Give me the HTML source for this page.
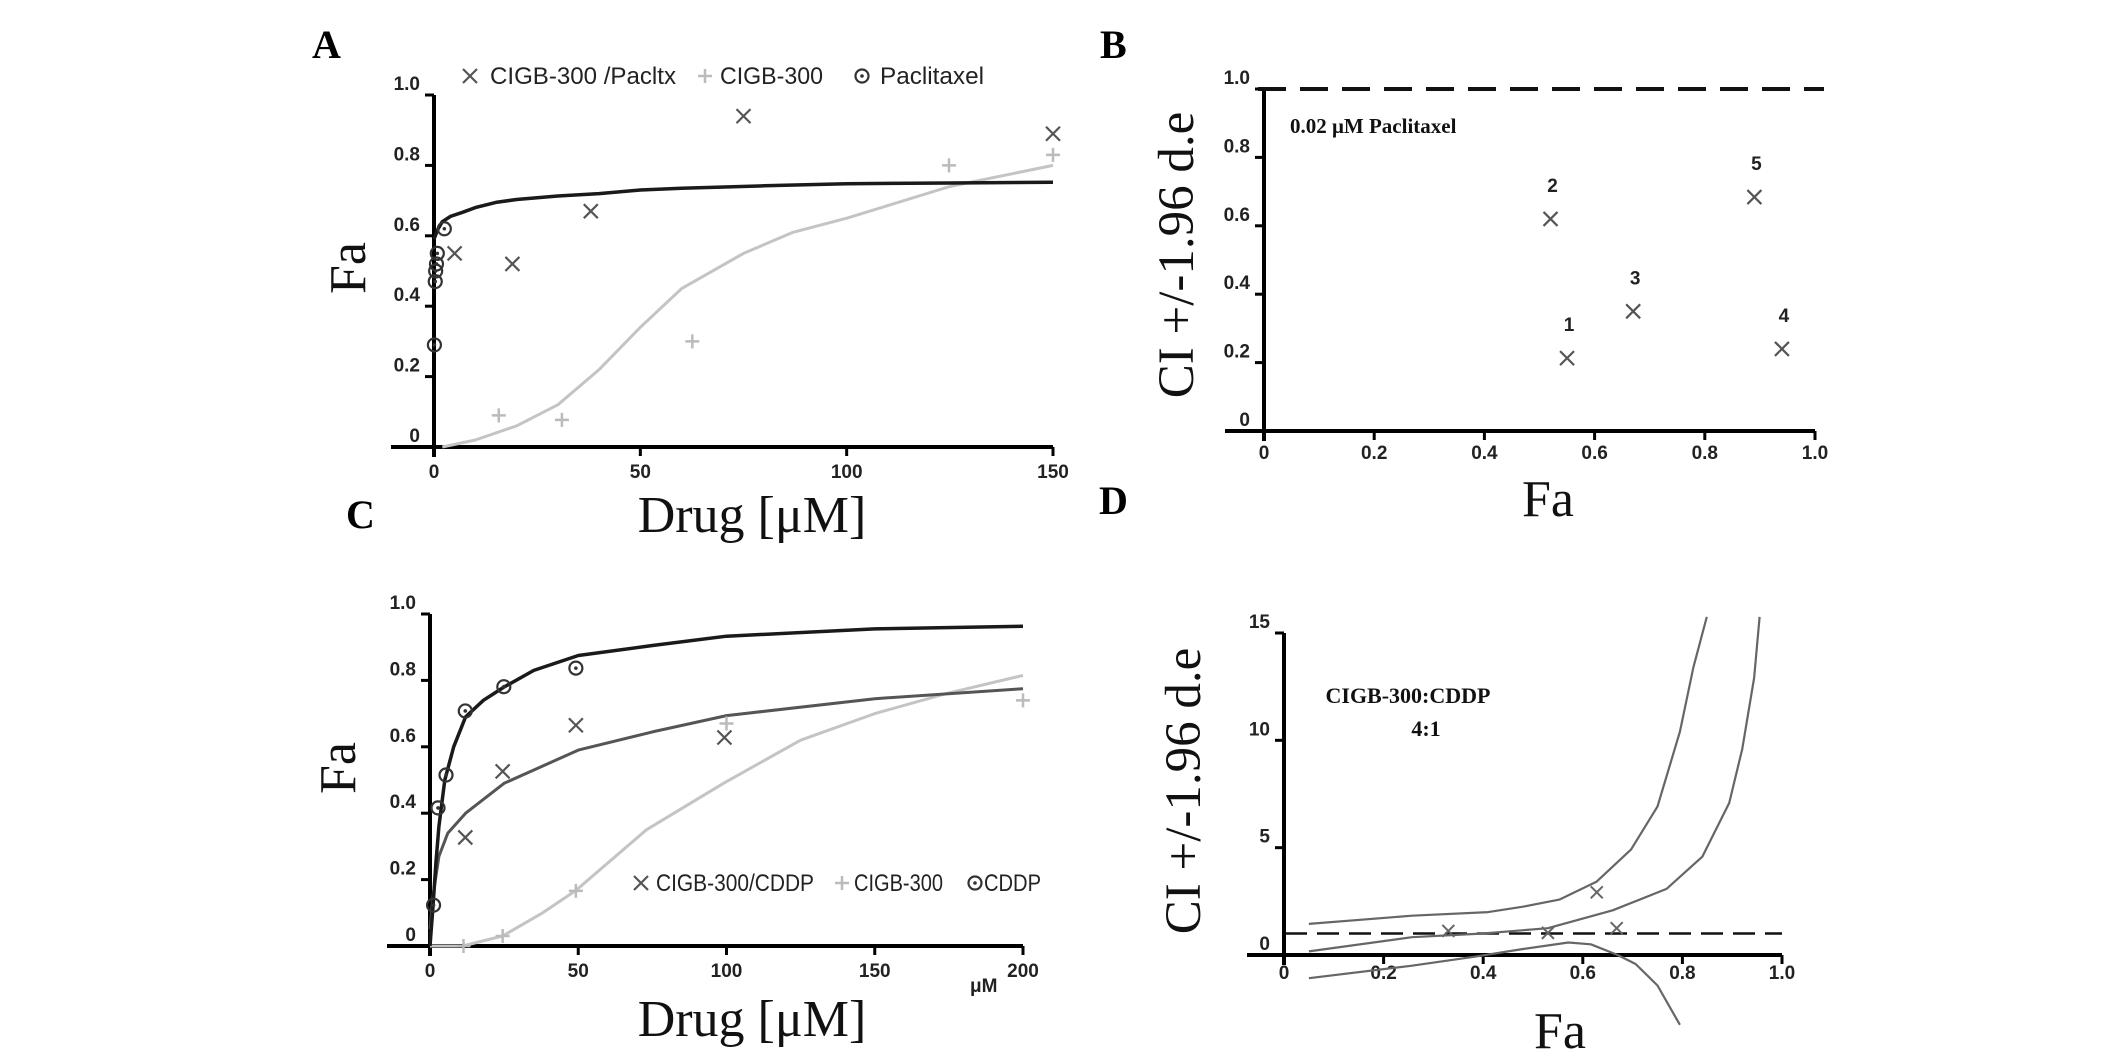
<!DOCTYPE html>
<html><head><meta charset="utf-8"><style>
html,body{margin:0;padding:0;background:#fff;}
svg{display:block;}
.tk{font-family:"Liberation Sans Narrow","Liberation Sans",sans-serif;font-weight:bold;font-size:19px;fill:#222;}
.ser{font-family:"Liberation Serif",serif;}
.lg{font-family:"Liberation Sans Narrow","Liberation Sans",sans-serif;font-size:24px;fill:#222;}
</style></head><body>
<svg id="fig" width="2126" height="1063" viewBox="0 0 2126 1063" xmlns="http://www.w3.org/2000/svg">
<rect width="2126" height="1063" fill="#fff"/>
<g class="ser" font-weight="bold" font-size="40" fill="#000">
<text x="312" y="58">A</text>
<text x="1100" y="58">B</text>
<text x="346" y="528">C</text>
<text x="1099" y="514">D</text>
</g>
<g class="ser" font-size="52" fill="#111">
<text x="752" y="532" text-anchor="middle">Drug  [μM]</text>
<text transform="translate(365,268) rotate(-90)" text-anchor="middle">Fa</text>
<text x="1548" y="516" text-anchor="middle">Fa</text>
<text transform="translate(1193,255) rotate(-90)" font-size="51" text-anchor="middle">CI +/-1.96 d.e</text>
<text x="752" y="1036" text-anchor="middle">Drug  [μM]</text>
<text transform="translate(355,768) rotate(-90)" text-anchor="middle">Fa</text>
<text x="1560" y="1048" text-anchor="middle">Fa</text>
<text transform="translate(1200,791) rotate(-90)" font-size="51" text-anchor="middle">CI +/-1.96 d.e</text>
</g>
<text x="1290" y="133" class="ser" font-weight="bold" font-size="21" fill="#111">0.02 μM Paclitaxel</text>
<text x="1408" y="703" class="ser" font-weight="bold" font-size="22" fill="#111" text-anchor="middle">CIGB-300:CDDP</text>
<text x="1426" y="736" class="ser" font-weight="bold" font-size="22" fill="#111" text-anchor="middle">4:1</text>
<text x="970" y="992" class="tk" font-weight="normal" font-size="17">μM</text>
<g class="lg">
<text x="490" y="84" textLength="186" lengthAdjust="spacingAndGlyphs">CIGB-300 /Pacltx</text>
<text x="720" y="84" textLength="103" lengthAdjust="spacingAndGlyphs">CIGB-300</text>
<text x="880" y="84" textLength="104" lengthAdjust="spacingAndGlyphs">Paclitaxel</text>
<text x="656" y="891" textLength="158" lengthAdjust="spacingAndGlyphs">CIGB-300/CDDP</text>
<text x="854" y="891" textLength="89" lengthAdjust="spacingAndGlyphs">CIGB-300</text>
<text x="984" y="891" textLength="57" lengthAdjust="spacingAndGlyphs">CDDP</text>
</g>
<g id="marks"></g>
</svg>
<script>
// Panel A data
const aComboX = [5, 19, 38, 75, 150];
const aComboY = [0.55, 0.52, 0.67, 0.94, 0.89];
const aCigbX = [15.7, 31, 62.6, 124.8, 150];
const aCigbY = [0.09, 0.077, 0.30, 0.80, 0.83];
const aPacX = [2.5, 0.8, 0.6, 0.4, 0.3, 0.1];
const aPacY = [0.62, 0.55, 0.52, 0.50, 0.47, 0.29];
const aComboCurveX = [0, 1, 2, 4, 7, 10, 15, 20, 30, 40, 50, 60, 80, 100, 125, 150];
const aComboCurveY = [0.59, 0.62, 0.64, 0.655, 0.667, 0.68, 0.695, 0.703, 0.713, 0.72, 0.73, 0.735, 0.742, 0.748, 0.75, 0.752];
const aCigbCurveX = [2, 10, 20, 30, 40, 50, 60, 75, 87, 100, 125, 150];
const aCigbCurveY = [0, 0.02, 0.06, 0.12, 0.22, 0.34, 0.45, 0.55, 0.61, 0.65, 0.74, 0.80];
const aXTicks = [0, 50, 100, 150];
const aYTicks = [0, 0.2, 0.4, 0.6, 0.8, 1.0];
const aYTickLabels = ["0", "0.2", "0.4", "0.6", "0.8", "1.0"];
// Panel B data
const bFa = [0.55, 0.52, 0.67, 0.94, 0.89];
const bCI = [0.213, 0.62, 0.35, 0.24, 0.684];
const bPointLabels = ["1", "2", "3", "4", "5"];
const bXTicks = [0, 0.2, 0.4, 0.6, 0.8, 1.0];
const bXTickLabels = ["0", "0.2", "0.4", "0.6", "0.8", "1.0"];
const bYTicks = [0, 0.2, 0.4, 0.6, 0.8, 1.0];
const bYTickLabels = ["0", "0.2", "0.4", "0.6", "0.8", "1.0"];
// Panel C data
const cCddpX = [1.2, 2.7, 5.4, 11.9, 24.9, 49.2];
const cCddpY = [0.123, 0.416, 0.515, 0.708, 0.781, 0.837];
const cComboX = [11.9, 24.5, 49.2, 99.3];
const cComboY = [0.327, 0.526, 0.665, 0.628];
const cCigbX = [11.3, 24.5, 49.2, 100, 200];
const cCigbY = [0, 0.03, 0.166, 0.67, 0.74];
const cCddpCurveX = [0, 1, 2, 3, 5, 8, 12, 18, 25, 35, 50, 75, 100, 150, 200];
const cCddpCurveY = [0, 0.12, 0.25, 0.36, 0.5, 0.6, 0.69, 0.74, 0.78, 0.83, 0.875, 0.905, 0.933, 0.955, 0.963];
const cComboCurveX = [0, 1, 3, 6, 12, 25, 50, 75, 100, 150, 200];
const cComboCurveY = [0.05, 0.15, 0.27, 0.34, 0.40, 0.49, 0.59, 0.645, 0.694, 0.745, 0.775];
const cCigbCurveX = [0, 11, 24.5, 38, 49, 73, 99, 125, 150, 174, 200];
const cCigbCurveY = [0, 0, 0.03, 0.10, 0.166, 0.35, 0.49, 0.62, 0.70, 0.76, 0.815];
const cXTicks = [0, 50, 100, 150, 200];
const cYTicks = [0, 0.2, 0.4, 0.6, 0.8, 1.0];
const cYTickLabels = ["0", "0.2", "0.4", "0.6", "0.8", "1.0"];
// Panel D data
const dFa = [0.33, 0.53, 0.628, 0.668];
const dCI = [1.12, 1.03, 2.92, 1.25];
const dUpperFa = [0.05, 0.257, 0.41, 0.48, 0.553, 0.628, 0.697, 0.75, 0.795, 0.822, 0.849];
const dUpperCI = [1.45, 1.83, 2.0, 2.25, 2.58, 3.42, 4.92, 6.92, 10.4, 13.4, 15.75];
const dMidFa = [0.05, 0.257, 0.40, 0.53, 0.66, 0.768, 0.84, 0.894, 0.92, 0.944, 0.955];
const dMidCI = [0.17, 0.83, 1.0, 1.25, 2.08, 3.08, 4.58, 7.08, 9.58, 12.9, 15.75];
const dLowFa = [0.05, 0.257, 0.383, 0.48, 0.571, 0.616, 0.67, 0.706, 0.75, 0.795];
const dLowCI = [-1.08, -0.5, -0.08, 0.28, 0.58, 0.5, 0, -0.42, -1.42, -3.25];
const dXTicks = [0, 0.2, 0.4, 0.6, 0.8, 1.0];
const dXTickLabels = ["0", "0.2", "0.4", "0.6", "0.8", "1.0"];
const dYTicks = [0, 5, 10, 15];

const NS = "http://www.w3.org/2000/svg";
const root = document.getElementById("marks");
function mk(tag, attrs) {
  const e = document.createElementNS(NS, tag);
  for (const k in attrs) e.setAttribute(k, attrs[k]);
  root.appendChild(e);
  return e;
}
function sc(d0, d1, r0, r1) { return v => r0 + (v - d0) / (d1 - d0) * (r1 - r0); }

function axes(p, xs, ys, xTicks, xLabels, yTicks, yLabels, xStart, labelY) {
  let e = mk("line", {x1: xStart, y1: ys(0), x2: xs(xTicks[xTicks.length-1]), y2: ys(0), stroke: "#000", "stroke-width": 4});
  
  
  e = mk("line", {x1: xs(0), y1: ys(0) + 10, x2: xs(0), y2: ys(yTicks[yTicks.length-1]), stroke: "#000", "stroke-width": 4});
  
  
  xTicks.forEach((v, i) => {
    let t = mk("line", {x1: xs(v), y1: ys(0), x2: xs(v), y2: ys(0) + 9, stroke: "#000", "stroke-width": 3});
    
    
    let l = mk("text", {x: xs(v), y: labelY, "text-anchor": "middle", class: "tk"});
    l.textContent = xLabels[i];
    
    
  });
  yTicks.forEach((v, i) => {
    let t = mk("line", {x1: xs(0) - 9, y1: ys(v), x2: xs(0), y2: ys(v), stroke: "#000", "stroke-width": 3});
    
    
    let l = mk("text", {x: xs(0) - 14, y: ys(v) - 5, "text-anchor": "end", class: "tk"});
    l.textContent = yLabels[i];
    
    
  });
}
function curve(xArr, yArr, xs, ys, color, w) {
  const pts = xArr.map((v, i) => xs(v).toFixed(1) + "," + ys(yArr[i]).toFixed(1)).join(" ");
  return mk("polyline", {points: pts, fill: "none", stroke: color, "stroke-width": w, "stroke-linejoin": "round"});
}
function cross(x, y, s, color, w) {
  return mk("path", {d: `M${x-s},${y-s}L${x+s},${y+s}M${x-s},${y+s}L${x+s},${y-s}`, stroke: color, "stroke-width": w, fill: "none"});
}
function plus(x, y, s, color, w) {
  return mk("path", {d: `M${x-s},${y}L${x+s},${y}M${x},${y-s}L${x},${y+s}`, stroke: color, "stroke-width": w, fill: "none"});
}
function circ(x, y, color) {
  const g = mk("circle", {cx: x, cy: y, r: 6.5, fill: "none", stroke: color, "stroke-width": 2.2});
  const d = document.createElementNS(NS, "circle");
  d.setAttribute("cx", x); d.setAttribute("cy", y); d.setAttribute("r", 1.8); d.setAttribute("fill", color);
  root.appendChild(d);
  return g;
}

// ---- Panel A ----
const axA = sc(0, 150, 434, 1053), ayA = sc(0, 1, 447, 95);
axes("panel-a", axA, ayA, aXTicks, aXTicks.map(String), aYTicks, aYTickLabels, 391, 478);
let m = curve(aCigbCurveX, aCigbCurveY, axA, ayA, "#c4c4c4", 3);


m = curve(aComboCurveX, aComboCurveY, axA, ayA, "#1a1a1a", 3.5);


aComboX.forEach((v, i) => {
  const p = cross(axA(v), ayA(aComboY[i]), 7, "#555", 2.2);
  
  
});
aCigbX.forEach((v, i) => {
  const p = plus(axA(v), ayA(aCigbY[i]), 7, "#bbb", 2.5);
  
  
});
aPacX.forEach((v, i) => {
  const p = circ(axA(v), ayA(aPacY[i]), "#333");
  
  
});
m = cross(470, 76, 7, "#555", 2.2);


m = plus(705, 76, 7, "#bbb", 2.5);


m = circ(862, 76, "#333");



// ---- Panel B ----
const axB = sc(0, 1, 1264, 1815), ayB = sc(0, 1, 431, 89);
axes("panel-b", axB, ayB, bXTicks, bXTickLabels, bYTicks, bYTickLabels, 1225, 459);
m = mk("line", {x1: 1258, y1: ayB(1), x2: 1824, y2: ayB(1), stroke: "#111", "stroke-width": 4, "stroke-dasharray": "28,14"});


bFa.forEach((v, i) => {
  const p = cross(axB(v), ayB(bCI[i]), 7, "#555", 2.2);
  
  
  const t = mk("text", {x: axB(v) + 2, y: ayB(bCI[i]) - 27, "text-anchor": "middle", class: "tk", "font-size": "25"});
  t.textContent = bPointLabels[i];
  
  
});

// ---- Panel C ----
const axC = sc(0, 200, 430, 1023), ayC = sc(0, 1, 946, 614);
axes("panel-c", axC, ayC, cXTicks, cXTicks.map(String), cYTicks, cYTickLabels, 387, 977);
m = curve(cCigbCurveX, cCigbCurveY, axC, ayC, "#c4c4c4", 3);


m = curve(cComboCurveX, cComboCurveY, axC, ayC, "#555", 3);


m = curve(cCddpCurveX, cCddpCurveY, axC, ayC, "#1a1a1a", 3.5);


cCigbX.forEach((v, i) => {
  const p = plus(axC(v), ayC(cCigbY[i]), 7, "#bbb", 2.5);
  
  
});
cComboX.forEach((v, i) => {
  const p = cross(axC(v), ayC(cComboY[i]), 7, "#555", 2.2);
  
  
});
cCddpX.forEach((v, i) => {
  const p = circ(axC(v), ayC(cCddpY[i]), "#333");
  
  
});
m = cross(641, 883, 7, "#555", 2.2);


m = plus(842, 883, 7, "#bbb", 2.5);


m = circ(975, 883, "#333");



// ---- Panel D ----
const axD = sc(0, 1, 1284, 1782), ayD = sc(0, 15, 955, 633);
axes("panel-d", axD, ayD, dXTicks, dXTickLabels, dYTicks, dYTicks.map(String), 1247, 979);
m = mk("line", {x1: 1285, y1: ayD(1), x2: 1782, y2: ayD(1), stroke: "#111", "stroke-width": 2.5, "stroke-dasharray": "22,10"});


m = curve(dUpperFa, dUpperCI, axD, ayD, "#666", 2.2);


m = curve(dMidFa, dMidCI, axD, ayD, "#666", 2.2);


m = curve(dLowFa, dLowCI, axD, ayD, "#666", 2.2);


dFa.forEach((v, i) => {
  const p = cross(axD(v), ayD(dCI[i]), 6, "#666", 2);
  
  
});
</script>
</body></html>
